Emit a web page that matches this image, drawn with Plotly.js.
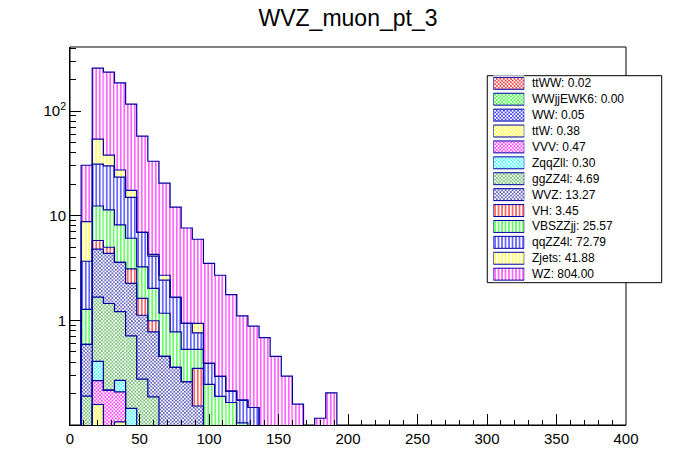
<!DOCTYPE html>
<html>
<head>
<meta charset="utf-8">
<script src="https://cdn.plot.ly/plotly-3.0.1.min.js"></script>
<style>html,body{margin:0;padding:0;background:#fff}#chart{width:696px;height:472px}</style>
</head>
<body>
<div id="chart"></div>
<script>
// ---- data (bin low edges, GeV; bin width 8) ----
const binLow = [8,16,24,32,40,48,56,64,72,80,88,96,104,112,120,128,136,144,152,160,168,176,184];
const binWidth = 8;

// samples, listed bottom of the stack first
const samples = ['ttWW','WWjjEWK6','WW','ttW','VVV','ZqqZll','ggZZ4l','WVZ','VH','VBSZZjj','qqZZ4l','Zjets','WZ'];
const totals  = [0.02, 0.00, 0.05, 0.38, 0.47, 0.30, 4.69, 13.27, 3.45, 25.57, 72.79, 41.88, 804.00];

const ttWW     = [0,0,0.02,0,0,0,0,0,0,0,0,0,0,0,0,0,0,0,0,0,0,0,0];
const WWjjEWK6 = [0,0,0,0,0,0,0,0,0,0,0,0,0,0,0,0,0,0,0,0,0,0,0];
const WW       = [0,0.03,0,0,0.02,0,0,0,0,0,0,0,0,0,0,0,0,0,0,0,0,0,0];
const ttW      = [0.03,0.127,0.03,0.107,0.03,0.03,0.03,0,0,0,0,0,0,0,0,0,0,0,0,0,0,0,0];
const VVV      = [0.02,0.108,0.165,0.10,0.03,0.02,0,0.02,0,0,0,0,0,0,0,0,0,0,0,0,0,0,0];
const ZqqZll   = [0,0.14,0,0.06,0.064,0.02,0.02,0,0,0,0,0,0,0,0,0,0,0,0,0,0,0,0];
const ggZZ4l   = [0.139,1.265,1.235,0.943,0.568,0.204,0.136,0.05,0.04,0.04,0.05,0,0,0,0,0,0,0,0,0,0,0,0];
const WVZ      = [0.40,3.13,2.92,2.38,1.55,0.846,0.592,0.382,0.315,0.219,0.102,0.05,0.05,0.04,0.025,0,0,0,0,0,0,0,0];
const VH       = [0,1.0,0.63,0,0.84,0.50,0.214,0,0,0,0.195,0,0,0,0,0,0,0,0,0,0,0,0];
const VBSZZjj  = [0.685,6.6,6.4,4.58,2.99,1.62,1.028,0.718,0.423,0.269,0.181,0.194,0.138,0.124,0.08,0.04,0,0,0,0,0,0,0];
const qqZZ4l   = [2.40,18.7,18.6,15.2,8.9,3.71,2.10,1.25,0.882,0.407,0.232,0.144,0.104,0.047,0.068,0.107,0.05,0.03,0.02,0,0,0,0];
const Zjets    = [5.12,22.9,7.9,4.0,2.5,0,0.16,0.28,0,0,0.175,0,0,0,0,0,0,0,0,0,0,0,0];
const WZ       = [21.6,204,198,159.2,99.2,50.75,28.92,17.8,10.44,6.705,5.025,3.122,2.408,1.549,0.933,0.733,0.635,0.423,0.273,0.158,0,0.116,0.203];

const xTickVals = [0,50,100,150,200,250,300,350,400];
const yTickVals = [1,10,100];
const yTickText = ['1','10','10<sup>2</sup>'];
const yMinorVals = [0.2,0.3,0.4,0.5,0.6,0.7,0.8,0.9,2,3,4,5,6,7,8,9,20,30,40,50,60,70,80,90,200,300,400];

// ---- styles ----
const series = [ttWW,WWjjEWK6,WW,ttW,VVV,ZqqZll,ggZZ4l,WVZ,VH,VBSZZjj,qqZZ4l,Zjets,WZ];
const colors = ['#ff0000','#00ff00','#0000ff','#ffff00','#ff00ff','#00ffff','#3fa83f','#3232aa','#ff0000','#00ff00','#0000ff','#ffff00','#ff00ff'];
const hatchV = [false,false,false,false,false,false,false,false,true,true,true,true,true];
const outline = '#0000a0';
const FONT = 'Liberation Sans, Arial, Helvetica, sans-serif';
const FLOOR = 1e-3;

function pattern(i){
  return hatchV[i]
    ? {shape:'|', size:3.5, solidity:0.3, fgcolor:colors[i], bgcolor:'white', fillmode:'replace'}
    : {shape:'x', size:2.5, solidity:0.45, fgcolor:colors[i], bgcolor:'white', fillmode:'replace'};
}

const centers = binLow.map(v => v + binWidth/2);
const traces = [];
const lines = [];
let cumBelow = binLow.map(() => 0);
series.forEach((vals, i) => {
  const base = cumBelow.map(c => Math.max(c, FLOOR));
  const cum = vals.map((v, j) => cumBelow[j] + v);
  traces.push({
    type:'bar', x:centers, y:vals.map(v => v > 0 ? v : null), base:base,
    width:binWidth, orientation:'v', xaxis:'x', yaxis:'y',
    marker:{color:'white', line:{width:0}, pattern:pattern(i)},
    showlegend:false, hoverinfo:'skip'
  });
  const lx = [binLow[0]].concat(binLow, [binLow[binLow.length-1] + binWidth]);
  const ly = [FLOOR].concat(cum.map(c => c > 0 ? c : FLOOR), [FLOOR]);
  lines.push({
    type:'scatter', mode:'lines', x:lx, y:ly, xaxis:'x', yaxis:'y',
    line:{shape:'hv', color:outline, width:1.2},
    showlegend:false, hoverinfo:'skip'
  });
  cumBelow = cum;
});

// legend swatches (own small axes)
const legendTraces = samples.map((name, i) => ({
  type:'bar', orientation:'h', x:[1], y:[i], base:[0], width:0.75,
  xaxis:'x2', yaxis:'y2',
  marker:{color:'white', line:{width:1, color:outline}, pattern:pattern(i)},
  showlegend:false, hoverinfo:'skip'
}));
const legendLabels = samples.map((name, i) => ({
  xref:'x2', yref:'y2', x:1, y:i, xanchor:'left', yanchor:'middle', xshift:5.5,
  text: name + ': ' + totals[i].toFixed(2), showarrow:false,
  font:{family:FONT, size:12, color:'black'}
}));

const layout = {
  width:696, height:472,
  margin:{l:70, r:70, t:47, b:47, pad:0},
  paper_bgcolor:'white', plot_bgcolor:'white',
  barmode:'overlay', showlegend:false,
  title:{text:'WVZ_muon_pt_3', font:{family:FONT, size:23, color:'black'},
         x:0.5, xref:'container', xanchor:'center', y:1-17.5/472, yref:'container', yanchor:'middle'},
  xaxis:{
    range:[0,400], tickmode:'array', tickvals:xTickVals, ticks:'inside', ticklen:11, tickwidth:1, tickcolor:'black',
    minor:{dtick:10, tick0:0, ticks:'inside', ticklen:5.5, tickwidth:1, tickcolor:'black'},
    showgrid:false, zeroline:false, showline:true, linecolor:'black', linewidth:1,
    tickfont:{family:FONT, size:15, color:'black'}, fixedrange:true
  },
  yaxis:{
    type:'log', range:[-1, 2.613], tickmode:'array', tickvals:yTickVals, ticktext:yTickText,
    ticks:'inside', ticklen:11, tickwidth:1, tickcolor:'black',
    minor:{tickmode:'array', tickvals:yMinorVals, ticks:'inside', ticklen:6, tickwidth:1, tickcolor:'black'},
    showgrid:false, zeroline:false, showline:true, linecolor:'black', linewidth:1,
    tickfont:{family:FONT, size:15, color:'black'}, fixedrange:true
  },
  xaxis2:{domain:[0.7613,0.8171], range:[0,1], visible:false, anchor:'y2', fixedrange:true},
  yaxis2:{domain:[0.378,0.925], range:[12.5,-0.5], visible:false, anchor:'x2', fixedrange:true},
  shapes:[
    {type:'rect', xref:'paper', yref:'paper', x0:0, x1:1, y0:0, y1:1, layer:'below',
     line:{color:'black', width:1}, fillcolor:'rgba(0,0,0,0)'},
    {type:'rect', xref:'paper', yref:'paper', x0:0.7505, x1:1.0642, y0:0.3765, y1:0.9241, layer:'below',
     line:{color:'black', width:1}, fillcolor:'white'}
  ],
  annotations:legendLabels
};

Plotly.newPlot('chart', traces.concat(lines, legendTraces), layout, {staticPlot:true, displayModeBar:false});
</script>
</body>
</html>
